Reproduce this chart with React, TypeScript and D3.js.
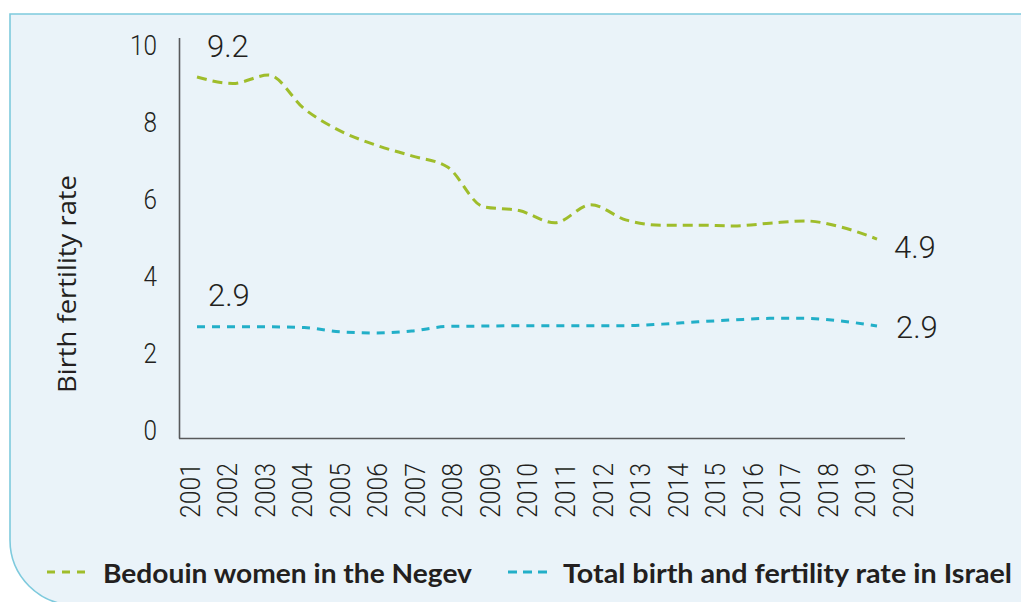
import React from "react";
import * as d3 from "d3";

const years = ["2001","2002","2003","2004","2005","2006","2007","2008","2009","2010","2011","2012","2013","2014","2015","2016","2017","2018","2019","2020"];
const bedouin = [9.17, 9.0, 9.22, 8.34, 7.77, 7.4, 7.12, 6.83, 5.8, 5.7, 5.38, 5.85, 5.45, 5.32, 5.32, 5.3, 5.37, 5.43, 5.27, 4.96];
const israel = [2.68, 2.68, 2.68, 2.66, 2.55, 2.52, 2.57, 2.69, 2.7, 2.71, 2.71, 2.71, 2.71, 2.75, 2.81, 2.86, 2.9, 2.9, 2.83, 2.7];
const yTicks = [0, 2, 4, 6, 8, 10];
const seriesNames = ["Bedouin women in the Negev", "Total birth and fertility rate in Israel"];
const endLabels = ["9.2", "4.9", "2.9", "2.9"];
const yTitle = "Birth fertility rate";

const GREEN = "#9fbd2b";
const BLUE = "#22afc8";
const TEXT = "#231f20";
const AXIS = "#58595b";

export default function App() {
  const xLine = d3.scalePoint<string>().domain(years).range([197, 877]);
  const xLab = d3.scalePoint<string>().domain(years).range([190, 903]);
  const y = d3.scaleLinear().domain([0, 10]).range([430, 45]);
  const line = d3
    .line<number>()
    .x((_, i) => xLine(years[i]) as number)
    .y((d) => y(d))
    .curve(d3.curveMonotoneX);

  const tickFont = "Roboto, 'Liberation Sans', Arial, sans-serif";

  return (
    <svg
      width={1021}
      height={602}
      style={{ position: "absolute", left: 0, top: 0, display: "block" }}
    >
      <rect x={0} y={0} width={1021} height={602} fill="#ffffff" />
      <path
        d="M10,14 H1040 V605 H75 A65,65 0 0 1 10,540 Z"
        fill="#eaf3f9"
        stroke="#7ecadd"
        strokeWidth={1.6}
      />
      {/* axes */}
      <line x1={179.5} x2={179.5} y1={38} y2={438.5} stroke={AXIS} strokeWidth={1.6} />
      <line x1={179} x2={905} y1={438.5} y2={438.5} stroke={AXIS} strokeWidth={1.6} />

      {/* y ticks */}
      {yTicks.map((t) => (
        <text
          key={t}
          transform={`translate(157,${y(t)}) scale(0.9,1)`}
          textAnchor="end"
          dy="0.36em"
          fontFamily={tickFont}
          fontWeight={300}
          fontSize={27}
          fill={TEXT}
        >
          {t}
        </text>
      ))}

      {/* x labels */}
      {years.map((yr) => (
        <text
          key={yr}
          transform={`translate(${xLab(yr)},463) rotate(-90) scale(0.92,1)`}
          textAnchor="end"
          dy="0.36em"
          fontFamily={tickFont}
          fontWeight={300}
          fontSize={27}
          fill={TEXT}
        >
          {yr}
        </text>
      ))}

      {/* y title */}
      <text
        transform="translate(76,284) rotate(-90)"
        textAnchor="middle"
        fontFamily="'Open Sans', sans-serif"
        fontWeight={400}
        fontSize={25}
        textLength={218}
        lengthAdjust="spacingAndGlyphs"
        fill={TEXT}
      >
        {yTitle}
      </text>

      {/* lines */}
      <path d={line(bedouin) || ""} fill="none" stroke={GREEN} strokeWidth={3} strokeDasharray="10 6" />
      <path d={line(israel) || ""} fill="none" stroke={BLUE} strokeWidth={3} strokeDasharray="8 7" />

      {/* value labels */}
      <text x={207} y={57} fontFamily={tickFont} fontWeight={300} fontSize={31} fill={TEXT}>{endLabels[0]}</text>
      <text x={894} y={258} fontFamily={tickFont} fontWeight={300} fontSize={31} fill={TEXT}>{endLabels[1]}</text>
      <text x={208} y={306} fontFamily={tickFont} fontWeight={300} fontSize={31} fill={TEXT}>{endLabels[2]}</text>
      <text x={896} y={338} fontFamily={tickFont} fontWeight={300} fontSize={31} fill={TEXT}>{endLabels[3]}</text>

      {/* legend */}
      <line x1={47} x2={86} y1={572} y2={572} stroke={GREEN} strokeWidth={3} strokeDasharray="8 7" />
      <text
        x={103}
        y={583}
        fontFamily="Lato, sans-serif"
        fontWeight={700}
        fontSize={26}
        textLength={369}
        lengthAdjust="spacingAndGlyphs"
        fill={TEXT}
      >
        {seriesNames[0]}
      </text>
      <line x1={508} x2={551} y1={572} y2={572} stroke={BLUE} strokeWidth={3} strokeDasharray="9 6" />
      <text
        x={563}
        y={583}
        fontFamily="Lato, sans-serif"
        fontWeight={700}
        fontSize={26}
        textLength={449}
        lengthAdjust="spacingAndGlyphs"
        fill={TEXT}
      >
        {seriesNames[1]}
      </text>
    </svg>
  );
}
